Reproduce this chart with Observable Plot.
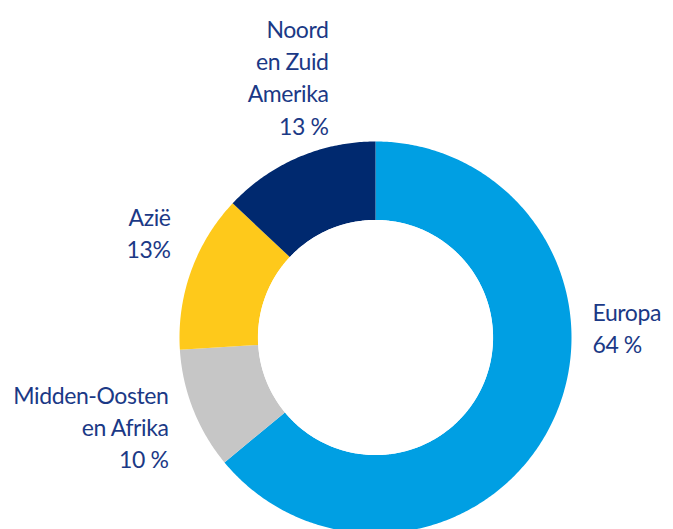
<!DOCTYPE html>
<html><head><meta charset="utf-8">
<script src="https://cdn.jsdelivr.net/npm/d3@7"></script>
<script src="https://cdn.jsdelivr.net/npm/@observablehq/plot@0.6"></script>
<style>
html,body{margin:0;padding:0;background:#fff;}
#chart svg{display:block;background:linear-gradient(to right,#ffffff 0,#ffffff 47px,#f9f9f9 47px,#f9f9f9 100%);}
#chart svg text{letter-spacing:-0.4px;}
</style></head><body><div id="chart"></div>
<script>
// ---- data ----
const regions = ["Europa", "Midden-Oosten en Afrika", "Azië", "Noord en Zuid Amerika"];
const shares = [64, 10, 13, 13];
const labelNames = ["Europa", "Midden-Oosten\nen Afrika", "Azië", "Noord\nen Zuid\nAmerika"];
const labelValues = ["64 %", "10 %", "13%", "13 %"];
const colors = ["#009fe3", "#c6c6c6", "#fec91b", "#00296f"];

// ---- layout ----
const W = 673, H = 529;
const CX = 375, CY = 337, R = 196, INNER = 0.6; // radius units
const labelLayout = [
  {px: 592, py: 297, anchor: "start"},
  {px: 168, py: 380, anchor: "end"},
  {px: 170, py: 202, anchor: "end"},
  {px: 328, py: 14, anchor: "end"}
];

const pie = d3.pie().sort(null).value(d => d.share).startAngle(0).endAngle(2 * Math.PI);
const slices = pie(regions.map((region, i) => ({region, share: shares[i]})));

const ring = [];
for (const s of slices) {
  const n = Math.max(8, Math.ceil((s.endAngle - s.startAngle) / 0.01));
  for (let k = 0; k <= n; k++) {
    const a = s.startAngle + (s.endAngle - s.startAngle) * k / n;
    ring.push({region: s.data.region, x: Math.sin(a), y: Math.cos(a)});
  }
  for (let k = n; k >= 0; k--) {
    const a = s.startAngle + (s.endAngle - s.startAngle) * k / n;
    ring.push({region: s.data.region, x: INNER * Math.sin(a), y: INNER * Math.cos(a)});
  }
}
const hole = d3.range(0, 361).map(k => {
  const a = k * Math.PI / 180;
  return {x: INNER * Math.sin(a) * 0.999, y: INNER * Math.cos(a) * 0.999};
});

const labels = regions.map((region, i) => ({
  region,
  text: labelNames[i] + "\n" + labelValues[i],
  x: (labelLayout[i].px - CX) / R,
  y: (CY - labelLayout[i].py) / R,
  anchor: labelLayout[i].anchor
}));

const textOpts = {x: "x", y: "y", text: "text", lineAnchor: "top", lineHeight: 1.41, fontSize: 23, fill: "#1b3986"};

const chart = Plot.plot({
  width: W, height: H, margin: 0,
  x: {domain: [-CX / R, (W - CX) / R], range: [0, W], axis: null},
  y: {domain: [-(H - CY) / R, CY / R], range: [H, 0], axis: null},
  color: {domain: regions, range: colors},
  style: {fontFamily: "Lato, 'Open Sans', sans-serif", background: "transparent"},
  marks: [
    Plot.line(ring, {x: "x", y: "y", z: "region", fill: "region", stroke: "none", curve: "linear-closed"}),
    Plot.line(hole, {x: "x", y: "y", fill: "#ffffff", stroke: "none", curve: "linear-closed"}),
    Plot.text(labels.filter(d => d.anchor === "start"), {...textOpts, textAnchor: "start"}),
    Plot.text(labels.filter(d => d.anchor === "end"), {...textOpts, textAnchor: "end"})
  ]
});
document.getElementById("chart").appendChild(chart);
</script></body></html>
